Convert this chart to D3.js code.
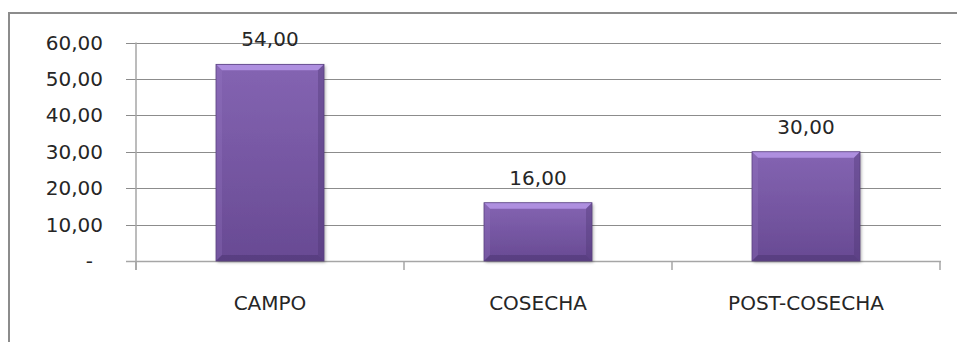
<!DOCTYPE html>
<html><head><meta charset="utf-8">
<script src="https://cdn.jsdelivr.net/npm/d3@7"></script>
<style>body{margin:0;background:#fff}svg{display:block}</style>
</head><body>
<script>
const categories = ["CAMPO", "COSECHA", "POST-COSECHA"];
const values = [54, 16, 30];
const yTicks = [0, 10, 20, 30, 40, 50, 60];

const W = 957, H = 342;
const fmt = v => v === 0 ? "-" : d3.format(".2f")(v).replace(".", ",");
const svg = d3.select("body").append("svg").attr("width", W).attr("height", H);

const defs = svg.append("defs");
const g1 = defs.append("linearGradient").attr("id", "bg").attr("x1", 0).attr("y1", 0).attr("x2", 0).attr("y2", 1);
g1.append("stop").attr("offset", "0%").attr("stop-color", "#8464b2");
g1.append("stop").attr("offset", "100%").attr("stop-color", "#684a93");
const f = defs.append("filter").attr("id", "sh").attr("x", "-20%").attr("y", "-20%").attr("width", "140%").attr("height", "140%");
f.append("feDropShadow").attr("dx", 1.5).attr("dy", 1.5).attr("stdDeviation", 1.5).attr("flood-color", "#000").attr("flood-opacity", 0.3);

// outer border
svg.append("rect").attr("x", 9).attr("y", 13).attr("width", 1100).attr("height", 500)
  .attr("fill", "none").attr("stroke", "#8c8c8c").attr("stroke-width", 2);

const x = d3.scaleBand().domain(categories).range([136, 940]).paddingInner(0).paddingOuter(0);
const y = d3.scaleLinear().domain([0, 60]).range([261, 42.5]);

// gridlines
svg.append("g").selectAll("line").data(yTicks).join("line")
  .attr("x1", 126).attr("x2", 941)
  .attr("y1", d => Math.round(y(d)) + 0.5).attr("y2", d => Math.round(y(d)) + 0.5)
  .attr("stroke", d => d === 0 ? "#a6a6a6" : "#8c8c8c").attr("stroke-width", d => d === 0 ? 1.5 : 1);

// y axis line
svg.append("line").attr("x1", 136).attr("x2", 136).attr("y1", y(60)).attr("y2", 270)
  .attr("stroke", "#a6a6a6").attr("stroke-width", 1.5);

// category ticks
const bounds = categories.map(c => x(c)).concat([x.range()[1]]);
svg.append("g").selectAll("line").data(bounds).join("line")
  .attr("x1", d => d).attr("x2", d => d).attr("y1", y(0)).attr("y2", 270)
  .attr("stroke", "#a6a6a6").attr("stroke-width", 1.5);

// y tick labels
svg.append("g").selectAll("text").data(yTicks).join("text")
  .attr("x", d => d === 0 ? 93 : 103).attr("y", d => y(d)).attr("dy", "0.35em")
  .attr("text-anchor", "end").attr("font-family", "DejaVu Sans").attr("font-size", 20)
  .attr("fill", "#262626").text(fmt);

// bars
const bw = 108, bev = 6;
const bars = svg.append("g").selectAll("g").data(values).join("g");
bars.each(function(v, i) {
  const g = d3.select(this);
  const x0 = x(categories[i]) + x.bandwidth() / 2 - bw / 2, x1 = x0 + bw;
  const y0 = y(v), y1 = y(0);
  g.append("rect").attr("x", x0).attr("y", y0).attr("width", bw).attr("height", y1 - y0)
    .attr("fill", "url(#bg)").attr("filter", "url(#sh)");
  const poly = (pts, c, o) => g.append("polygon").attr("points", pts.map(p => p.join(",")).join(" ")).attr("fill", c).attr("opacity", o);
  poly([[x0, y0], [x1, y0], [x1 - bev, y0 + bev], [x0 + bev, y0 + bev]], "#b393e4", 0.9);
  poly([[x0, y0], [x0 + bev, y0 + bev], [x0 + bev, y1 - bev], [x0, y1]], "#9b7cc8", 0.25);
  poly([[x1, y0], [x1, y1], [x1 - bev, y1 - bev], [x1 - bev, y0 + bev]], "#4a3470", 0.35);
  poly([[x0, y1], [x0 + bev, y1 - bev], [x1 - bev, y1 - bev], [x1, y1]], "#4a3470", 0.5);
  g.append("rect").attr("x", x0).attr("y", y0).attr("width", bw).attr("height", y1 - y0)
    .attr("fill", "none").attr("stroke", "#5a4280").attr("stroke-width", 0.8);
});

// value labels
svg.append("g").selectAll("text").data(values).join("text")
  .attr("x", (d, i) => x(categories[i]) + x.bandwidth() / 2)
  .attr("y", d => y(d) - 18)
  .attr("text-anchor", "middle").attr("font-family", "DejaVu Sans").attr("font-size", 20)
  .attr("fill", "#262626").text(fmt);

// category labels
svg.append("g").selectAll("text").data(categories).join("text")
  .attr("x", d => x(d) + x.bandwidth() / 2).attr("y", 310)
  .attr("text-anchor", "middle").attr("font-family", "DejaVu Sans").attr("font-size", 20)
  .attr("fill", "#262626").text(d => d);
</script>
</body></html>
